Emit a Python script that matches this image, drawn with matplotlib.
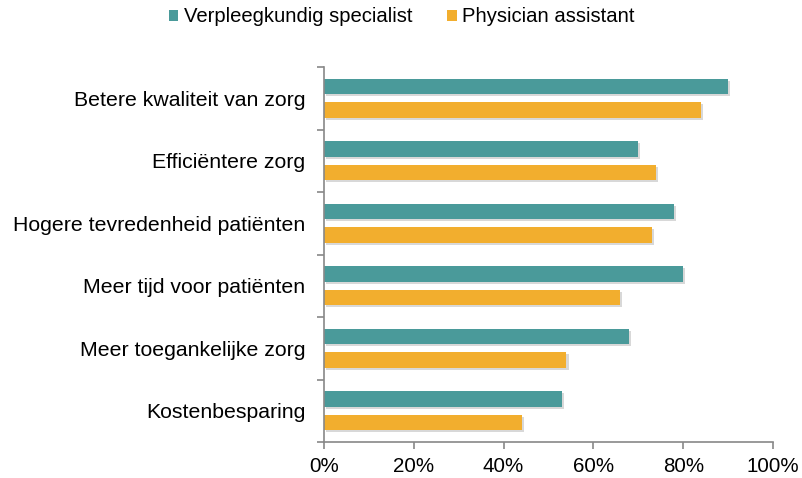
import matplotlib
matplotlib.use("Agg")
import matplotlib.pyplot as plt
import matplotlib.patheffects as pe
from matplotlib.patches import Patch
import numpy as np

plt.rcParams['font.family'] = ['Liberation Sans', 'DejaVu Sans']

categories = ["Betere kwaliteit van zorg", "Efficiëntere zorg", "Hogere tevredenheid patiënten",
              "Meer tijd voor patiënten", "Meer toegankelijke zorg", "Kostenbesparing"]
vs_values = [90, 70, 78, 80, 68, 53]
pa_values = [84, 74, 73, 66, 54, 44]
series_names = ["Verpleegkundig specialist", "Physician assistant"]
x_ticks = [0, 20, 40, 60, 80, 100]
x_tick_labels = ["0%", "20%", "40%", "60%", "80%", "100%"]

teal = "#4A9A9A"
orange = "#F2AE2E"

fig = plt.figure(figsize=(8.03, 4.78), dpi=100)
ax = fig.add_axes([324/803, 1-442/478, (773-324)/803, (442-67)/478])

y = np.arange(len(categories))
h = 0.245
off = 0.188
shadow = [pe.SimplePatchShadow(offset=(1.5, -1.5), shadow_rgbFace='#aaaaaa', alpha=0.45), pe.Normal()]
b1 = ax.barh(y - off, vs_values, height=h, color=teal)
b2 = ax.barh(y + off, pa_values, height=h, color=orange)
for b in list(b1) + list(b2):
    b.set_path_effects(shadow)

ax.set_xlim(0, 100)
ax.set_ylim(len(categories) - 0.5, -0.5)
ax.set_xticks(x_ticks)
ax.set_xticklabels(x_tick_labels, fontsize=14.8)
ax.set_yticks(y)
ax.set_yticklabels(categories, fontsize=15.3)
ax.tick_params(axis='y', which='major', length=0, pad=13.5)
ax.set_yticks(np.arange(-0.5, len(categories), 1), minor=True)
ax.tick_params(axis='y', which='minor', length=5, color='#888888', width=1.2)
ax.tick_params(axis='x', length=5, color='#888888', width=1.2, pad=6)

for s in ['top', 'right']:
    ax.spines[s].set_visible(False)
for s in ['left', 'bottom']:
    ax.spines[s].set_color('#888888')
    ax.spines[s].set_linewidth(1.2)

handles = [Patch(facecolor=teal), Patch(facecolor=orange)]
fig.legend(handles=handles, labels=series_names, loc='center', bbox_to_anchor=(0.5, 1-17/478),
           ncol=2, frameon=False, fontsize=14.6, handlelength=0.49, handleheight=0.49,
           handletextpad=0.25, columnspacing=1.72)

fig.savefig("out.png", dpi=100)
